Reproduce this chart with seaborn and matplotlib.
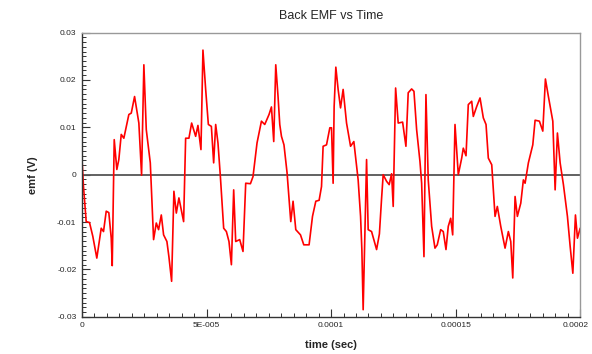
import numpy as np
import pandas as pd
import matplotlib
matplotlib.use("Agg")
import matplotlib.pyplot as plt
import matplotlib.transforms as mtransforms
import seaborn as sns
from matplotlib.ticker import MultipleLocator, FixedLocator, FixedFormatter

# time in microseconds
time_us = [0.0, 0.60, 1.69, 3.02, 4.34, 5.95, 7.72, 8.64, 9.73, 10.77, 11.74, 12.14,
           12.94, 13.99, 14.79, 15.76, 16.80, 18.81, 19.78, 21.11, 22.83, 23.92, 24.84,
           25.81, 27.42, 28.74, 29.83, 30.75, 31.84, 32.76, 34.09, 34.89, 35.98, 36.90,
           37.87, 38.91, 40.80, 41.61, 42.93, 44.02, 45.63, 46.55, 47.76, 48.56, 49.65,
           50.73, 51.94, 52.86, 53.67, 54.59, 55.56, 56.88, 57.97, 59.01, 59.98, 60.90,
           61.71, 63.32, 64.64, 65.73, 67.62, 68.66, 70.27, 72.04, 73.37, 75.09, 76.06,
           76.98, 77.79, 78.71, 79.40, 80.08, 81.09, 82.33, 83.82, 84.74, 85.83, 87.72,
           89.04, 91.17, 92.54, 93.87, 95.20, 96.16, 96.80, 98.17, 99.50, 100.18, 100.82,
           101.23, 101.91, 102.83, 103.80, 104.84, 106.21, 107.82, 109.14, 110.87, 111.84,
           112.36, 112.88, 114.25, 114.89, 116.26, 118.27, 119.40, 120.28, 120.92, 122.29,
           123.33, 124.30, 124.94, 125.91, 126.95, 128.72, 130.05, 130.97, 132.34, 133.27,
           134.35, 135.68, 136.36, 137.29, 138.09, 139.01, 140.38, 141.71, 142.63, 144.00,
           145.04, 146.13, 147.05, 148.02, 148.82, 149.75, 151.07, 152.44, 153.08, 154.17,
           155.09, 156.46, 157.10, 158.47, 159.80, 161.12, 162.21, 163.13, 164.50, 165.83,
           166.75, 168.12, 169.85, 171.17, 172.14, 172.94, 173.87, 174.79, 176.16, 177.20,
           177.89, 179.21, 180.98, 181.91, 183.64, 185.00, 186.05, 187.25, 189.02, 189.95,
           190.87, 191.96, 193.28, 194.89, 195.98, 197.06, 198.11, 198.91, 200.0]

# emf in units of 0.01 V
emf_c = [0.32, -0.25, -0.99, -1.01, -1.30, -1.76, -1.13, -1.20, -0.77, -0.80, -1.34, -1.92,
         0.74, 0.11, 0.32, 0.85, 0.77, 1.27, 1.30, 1.65, 1.09, -0.01, 2.32,
         0.95, 0.25, -1.37, -1.02, -1.16, -0.85, -1.27, -1.41, -1.73, -2.25, -0.35,
         -0.81, -0.49, -0.99, 0.77, 0.77, 1.09, 0.81, 1.04, 0.53, 2.63, 1.80,
         1.06, 1.02, 0.25, 1.06, 0.67, -0.04, -1.13, -1.20, -1.41, -1.90, -0.32,
         -1.41, -1.37, -1.62, -0.18, -0.19, -0.04, 0.67, 1.13, 1.06, 1.27, 1.43,
         0.70, 2.32, 1.65, 1.06, 0.81, 0.63, 0.04, -0.99, -0.56, -1.16, -1.27,
         -1.48, -1.48, -0.88, -0.56, -0.54, -0.25, 0.60, 0.63, 0.99, 0.99, -0.18,
         1.44, 2.27, 1.80, 1.41, 1.80, 1.09, 0.60, 0.70, -0.11, -0.88,
         -1.58, -2.85, 0.32, -1.16, -1.20, -1.58, -1.25, -0.50, 0.0, -0.14,
         -0.21, 0.02, -0.67, 1.83, 1.09, 1.11, 0.60, 1.73, 1.81, 1.76,
         0.95, 0.28, -0.18, -1.73, 1.69, -0.11, -1.09, -1.55, -1.48, -1.16,
         -1.20, -1.58, -1.09, -0.92, -1.27, 1.06, 0.0, 0.35, 0.56, 0.40,
         1.48, 1.55, 1.23, 1.44, 1.62, 1.20, 1.06, 0.35, 0.21, -0.88,
         -0.67, -1.09, -1.55, -1.20, -1.41, -2.18, -0.46, -0.88, -0.60, -0.11,
         -0.18, 0.25, 0.63, 1.15, 1.13, 0.92, 2.02, 1.65, 1.13, -0.32,
         0.88, 0.25, -0.21, -0.88, -1.51, -2.08, -0.85, -1.34, -1.13]

x_ticks = [0, 5e-5, 1e-4, 1.5e-4, 2e-4]
x_labels = ["0", "5E-005", "0.0001", "0.00015", "0.0002"]
y_ticks = [-0.03, -0.02, -0.01, 0, 0.01, 0.02, 0.03]
y_labels = ["-0.03", "-0.02", "-0.01", "0", "0.01", "0.02", "0.03"]

df = pd.DataFrame({"time": np.array(time_us) * 1e-6, "emf": np.array(emf_c) * 0.01})

sns.set_style("white")
plt.rcParams["font.family"] = ["Liberation Sans", "DejaVu Sans"]

fig = plt.figure(figsize=(5.92, 3.54), dpi=100)
ax = fig.add_axes([0.1385, 0.105, 0.8415, 0.803])

ax.axhline(0, color="#555555", lw=1.3, zorder=1)
sns.lineplot(data=df, x="time", y="emf", color="#ff0000", lw=1.2, sort=False,
             estimator=None, ax=ax, zorder=2)

ax.set_xlim(0, 0.0002)
ax.set_ylim(-0.03, 0.03)

ax.xaxis.set_major_locator(FixedLocator(x_ticks))
ax.xaxis.set_major_formatter(FixedFormatter(x_labels))
ax.xaxis.set_minor_locator(MultipleLocator(5e-6))
ax.yaxis.set_major_locator(FixedLocator(y_ticks))
ax.yaxis.set_major_formatter(FixedFormatter(y_labels))
ax.yaxis.set_minor_locator(MultipleLocator(0.001))

ax.tick_params(axis="both", which="major", direction="in", length=6, width=0.8,
               color="#333333", labelsize=6, pad=4)
ax.tick_params(axis="both", which="minor", direction="in", length=3, width=0.7,
               color="#333333")
ax.tick_params(axis="x", which="both", bottom=True, top=False)
ax.tick_params(axis="y", which="both", left=True, right=False)

for side in ["left", "bottom"]:
    ax.spines[side].set_color("#333333")
    ax.spines[side].set_linewidth(1.0)
for side in ["top", "right"]:
    ax.spines[side].set_color("#999999")
    ax.spines[side].set_linewidth(1.0)

ax.set_title("Back EMF vs Time", fontsize=9, pad=10)
ax.set_xlabel("time (sec)", fontsize=8, fontweight="bold", labelpad=8)
ax.set_ylabel("emf (V)", fontsize=8, fontweight="bold", labelpad=14)

fig.canvas.draw()
last = ax.get_xticklabels()[-1]
last.set_transform(last.get_transform() +
                   mtransforms.ScaledTranslation(-3 / 72, 0, fig.dpi_scale_trans))

fig.savefig("out.png", dpi=100)
